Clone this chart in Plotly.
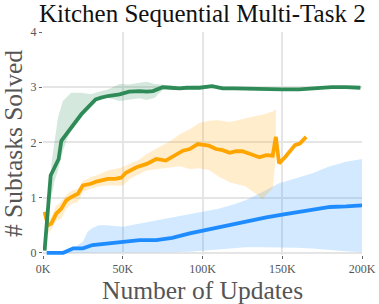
import plotly.graph_objects as go

# ---------------- data (x in thousands of updates) ----------------
green_x = [1, 2.7, 3.8, 4.8, 7.3, 9.8, 11.5, 15.6, 19.8, 24, 28, 33, 36.5, 40.6, 48, 54, 60.6, 65, 69, 75,
           80, 85.6, 90, 98, 106, 112.6, 120, 130, 140, 150, 160.6, 170, 181, 190, 199]
green_mean = [0.04, 0.65, 1.19, 1.4, 1.55, 1.7, 2.03, 2.18, 2.36, 2.51, 2.63, 2.78, 2.81, 2.84, 2.87, 2.92, 2.93,
              2.92, 2.93, 3.0, 2.99, 2.98, 2.99, 2.99, 3.02, 2.98, 2.98, 2.97, 2.97, 2.96, 2.96, 2.98, 3.0, 3.0, 2.99]
green_band_x = [5.2, 7.3, 9.4, 12.5, 15.6, 17.7, 20, 24, 28, 30, 34, 36.5, 40.6, 48, 54, 60.6, 65, 70, 75, 80,
                85.6, 90, 98, 106, 112.6, 120, 130, 140, 150, 160.6, 170, 181, 190, 199]
green_upper = [1.6, 2.0, 2.45, 2.75, 2.85, 2.9, 2.9, 2.9, 2.88, 2.87, 2.91, 2.93, 2.96, 3.06, 3.05, 3.08, 3.1,
               3.06, 3.05, 3.03, 3.01, 3.02, 3.02, 3.05, 3.01, 3.0, 2.99, 2.99, 2.98, 2.98, 3.0, 3.02, 3.02, 3.01]
green_lower = [1.0, 1.3, 1.49, 1.85, 2.1, 2.21, 2.3, 2.45, 2.58, 2.66, 2.78, 2.79, 2.81, 2.75, 2.78, 2.8, 2.77,
               2.81, 2.95, 2.96, 2.95, 2.96, 2.96, 2.99, 2.95, 2.96, 2.95, 2.95, 2.94, 2.94, 2.96, 2.98, 2.98, 2.97]

orange_x = [1, 3.1, 5.2, 8.3, 11.5, 14.6, 17.7, 21.9, 25, 28, 30, 33.5, 36.5, 40.6, 45, 49, 52, 55, 58.6, 65,
            71, 77, 82, 87.7, 92, 97, 104, 108.5, 112.6, 117, 121, 125, 130, 135.6, 140, 144, 146, 148, 152,
            155.6, 158, 161, 165]
orange_mean = [0.74, 0.5, 0.53, 0.71, 0.8, 0.95, 1.01, 1.07, 1.22, 1.23, 1.25, 1.29, 1.31, 1.34, 1.34, 1.36,
               1.45, 1.5, 1.55, 1.61, 1.70, 1.67, 1.76, 1.85, 1.88, 1.97, 1.94, 1.88, 1.86, 1.81, 1.84, 1.84,
               1.79, 1.73, 1.77, 1.76, 2.1, 1.62, 1.74, 1.86, 1.95, 1.98, 2.1]
orange_band_x = [1, 3.1, 5.2, 8.3, 11.5, 14.6, 17.7, 21.9, 25, 30, 35, 40.6, 45, 50, 55, 60, 65, 72, 80, 86,
                 92, 98, 104, 110, 117, 122, 127, 132, 137.6, 141, 144, 146]
orange_upper = [0.8, 0.6, 0.65, 0.85, 0.93, 1.05, 1.12, 1.16, 1.3, 1.37, 1.42, 1.49, 1.52, 1.55, 1.62, 1.68,
                1.79, 1.9, 2.03, 2.15, 2.24, 2.35, 2.39, 2.4, 2.37, 2.4, 2.44, 2.47, 2.5, 2.53, 2.56, 2.6]
orange_lower = [0.65, 0.35, 0.42, 0.58, 0.62, 0.8, 0.88, 0.92, 1.1, 1.16, 1.2, 1.22, 1.22, 1.22, 1.35, 1.42,
                1.49, 1.52, 1.55, 1.57, 1.52, 1.53, 1.5, 1.38, 1.28, 1.24, 1.2, 1.1, 0.97, 1.08, 1.17, 1.75]

blue_x = [2.3, 12.7, 19, 25, 31, 40, 50, 60.6, 71, 81, 92, 100, 110, 120, 130, 140, 150, 160, 170, 180, 190, 200]
blue_mean = [0.0, 0.0, 0.08, 0.08, 0.14, 0.17, 0.2, 0.23, 0.23, 0.27, 0.35, 0.40, 0.45, 0.52, 0.58, 0.64, 0.69,
             0.74, 0.79, 0.83, 0.84, 0.86]
blue_band_x = [2.3, 15, 20, 25, 28, 31, 35, 40, 50, 60.6, 71, 81, 92, 100, 110, 120, 127, 137.6, 148, 158.6,
               169, 179, 190, 200]
blue_upper = [0.0, 0.02, 0.1, 0.2, 0.38, 0.45, 0.5, 0.5, 0.47, 0.53, 0.59, 0.64, 0.71, 0.75, 0.8, 0.88, 0.95,
              1.1, 1.26, 1.35, 1.44, 1.56, 1.65, 1.7]
blue_lower = [0.0, 0.0, 0.0, 0.0, 0.0, 0.0, 0.0, 0.0, 0.0, 0.0, 0.0, 0.01, 0.02, 0.04, 0.07, 0.09, 0.1, 0.1,
              0.1, 0.09, 0.08, 0.05, 0.03, 0.01]

x_tick_vals = [0, 50, 100, 150, 200]
x_tick_text = ["0K", "50K", "100K", "150K", "200K"]
y_tick_vals = [0, 1, 2, 3, 4]

title_text = "Kitchen Sequential Multi-Task 2"
x_title = "Number of Updates"
y_title = "# Subtasks Solved"

SERIF = "Liberation Serif, Times New Roman, serif"

series = [
    (blue_x, blue_mean, blue_band_x, blue_upper, blue_lower, "#1e8cff", "rgba(30,144,255,0.2)"),
    (orange_x, orange_mean, orange_band_x, orange_upper, orange_lower, "#ffa500", "rgba(255,165,0,0.2)"),
    (green_x, green_mean, green_band_x, green_upper, green_lower, "#2e8b57", "rgba(46,139,87,0.2)"),
]

fig = go.Figure()
for mx, my, bx, bu, bl, col, fill in series:
    bxs = [v * 1000 for v in bx]
    fig.add_trace(go.Scatter(x=bxs, y=bl, mode="lines", line=dict(width=0, color=col),
                             hoverinfo="skip", showlegend=False))
    fig.add_trace(go.Scatter(x=bxs, y=bu, mode="lines", line=dict(width=0, color=col),
                             fill="tonexty", fillcolor=fill, hoverinfo="skip", showlegend=False))
for mx, my, bx, bu, bl, col, fill in series:
    fig.add_trace(go.Scatter(x=[v * 1000 for v in mx], y=my, mode="lines",
                             line=dict(width=3.8, color=col), showlegend=False))

fig.update_layout(
    width=379, height=304,
    margin=dict(l=43, r=17, t=32, b=49, autoexpand=False),
    paper_bgcolor="white", plot_bgcolor="white",
    font=dict(family=SERIF, color="#555555"),
    showlegend=False,
    annotations=[
        dict(text=title_text, xref="paper", yref="paper", x=0.5, y=1.0, yshift=34,
             xanchor="center", yanchor="top", showarrow=False,
             font=dict(family=SERIF, size=25, color="#111111")),
        dict(text=x_title, xref="paper", yref="paper", x=0.5, y=0.0, yshift=-19,
             xanchor="center", yanchor="top", showarrow=False,
             font=dict(family=SERIF, size=25.5, color="#555555")),
        dict(text=y_title, xref="paper", yref="paper", x=0.0, y=0.5, xshift=-46,
             xanchor="left", yanchor="middle", textangle=-90, showarrow=False,
             font=dict(family=SERIF, size=25.5, color="#555555")),
    ],
)
fig.update_xaxes(range=[0, 200000], tickvals=[v * 1000 for v in x_tick_vals], ticktext=x_tick_text,
                 ticks="outside", ticklen=3, tickwidth=1, tickcolor="#666666", automargin=False,
                 showgrid=True, gridcolor="#e5e5e5", gridwidth=1.5, zeroline=False, showline=False,
                 tickfont=dict(family=SERIF, size=12, color="#555555"))
fig.update_yaxes(range=[-0.04, 4.0], tickvals=y_tick_vals, automargin=False,
                 ticks="outside", ticklen=3, tickwidth=1, tickcolor="#666666",
                 showgrid=True, gridcolor="#e5e5e5", gridwidth=1.5, zeroline=False, showline=False,
                 tickfont=dict(family=SERIF, size=12, color="#555555"))

fig.write_html("out.html", config={"displayModeBar": False},
               post_script="document.body.style.margin='0';document.body.style.padding='0';")
